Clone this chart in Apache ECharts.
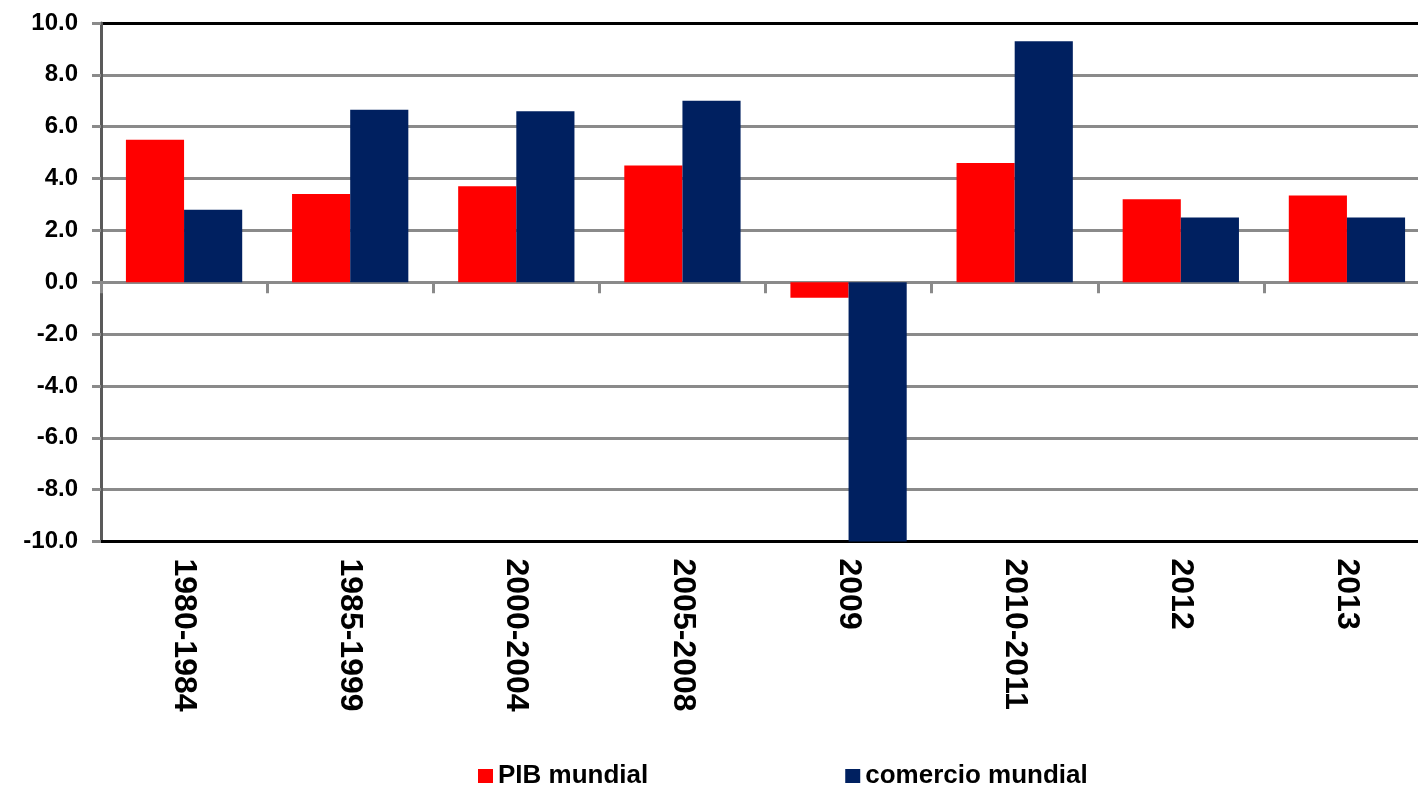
<!DOCTYPE html>
<html>
<head>
<meta charset="utf-8">
<script src="https://cdn.jsdelivr.net/npm/echarts@6/dist/echarts.min.js"></script>
<style>
  html, body { margin: 0; padding: 0; background: #fff; }
  #chart { width: 1418px; height: 787px; }
</style>
</head>
<body>
<div id="chart"></div>
<script>
// Growth rates (%), world GDP vs world merchandise trade
const categories = ['1980-1984', '1985-1999', '2000-2004', '2005-2008', '2009', '2010-2011', '2012', '2013'];
const pibMundial = [5.5, 3.4, 3.7, 4.5, -0.6, 4.6, 3.2, 3.35];
const comercioMundial = [2.8, 6.65, 6.6, 7.0, -10.0, 9.3, 2.5, 2.5];
const seriesNames = ['PIB mundial', 'comercio mundial'];

const FONT = "'Liberation Sans', Arial, sans-serif";
const GRID_GRAY = '#8a8a8a';

const chart = echarts.init(document.getElementById('chart'));

// gridlines: black at the -10 and 10 ends, grey in between
const splitColors = ['#000'];
for (let i = 0; i < 9; i++) splitColors.push(GRID_GRAY);
splitColors.push('#000');

chart.setOption({
  animation: false,
  backgroundColor: '#fff',
  grid: {
    left: 101,
    top: 23,
    width: 1329,
    height: 518.5,
    containLabel: false,
    outerBoundsMode: 'none'
  },
  legend: {
    data: seriesNames,
    left: 473,
    top: 758,
    itemWidth: 15,
    itemHeight: 14,
    itemGap: 197,
    icon: 'rect',
    textStyle: { fontFamily: FONT, fontWeight: 'bold', fontSize: 26, color: '#000' }
  },
  xAxis: [
    {
      type: 'category',
      data: categories,
      position: 'bottom',
      axisLine: { onZero: false, lineStyle: { color: '#000', width: 3 } },
      axisTick: { show: false },
      splitLine: { show: false },
      axisLabel: {
        interval: 0,
        rotate: -90,
        margin: 17,
        fontFamily: FONT,
        fontWeight: 'bold',
        fontSize: 32,
        color: '#000'
      }
    },
    {
      // zero baseline with tick marks between categories
      type: 'category',
      data: categories,
      position: 'top',
      axisLine: { onZero: true, lineStyle: { color: GRID_GRAY, width: 3 } },
      axisTick: { show: true, inside: true, length: 11, lineStyle: { color: GRID_GRAY, width: 3 } },
      axisLabel: { show: false },
      splitLine: { show: false }
    }
  ],
  yAxis: {
    type: 'value',
    min: -10,
    max: 10,
    interval: 2,
    axisLine: { show: true, lineStyle: { color: '#5a5a5a', width: 3 } },
    axisTick: { show: true, length: 9, lineStyle: { color: GRID_GRAY, width: 3 } },
    splitLine: { show: true, lineStyle: { color: splitColors, width: 3 } },
    axisLabel: {
      margin: 23,
      fontFamily: FONT,
      fontWeight: 'bold',
      fontSize: 24,
      color: '#000',
      formatter: v => v.toFixed(1)
    }
  },
  series: [
    {
      name: seriesNames[0],
      type: 'bar',
      data: pibMundial,
      barGap: '0%',
      barCategoryGap: '30%',
      itemStyle: { color: '#ff0000' }
    },
    {
      name: seriesNames[1],
      type: 'bar',
      data: comercioMundial,
      barGap: '0%',
      barCategoryGap: '30%',
      itemStyle: { color: '#002060' }
    }
  ]
});
</script>
</body>
</html>
